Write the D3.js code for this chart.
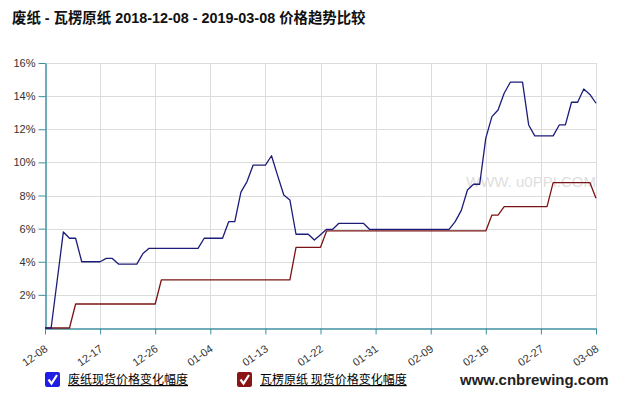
<!DOCTYPE html>
<html>
<head>
<meta charset="utf-8">
<script src="https://cdn.jsdelivr.net/npm/d3@7"></script>
<style>
  html, body { margin: 0; padding: 0; background: #fff; }
  svg { display: block; }
</style>
</head>
<body>
<svg id="chart" width="625" height="400"></svg>
<script>
// ---- data ----
const startDate = "2018-12-08";
const endDate = "2019-03-08";
const tickLabels = ["12-08","12-17","12-26","01-04","01-13","01-22","01-31","02-09","02-18","02-27","03-08"];
const yTicks = [2,4,6,8,10,12,14,16];
const seriesNames = ["废纸现货价格变化幅度", "瓦楞原纸 现货价格变化幅度"];
// daily values (%) from 2018-12-08 to 2019-03-08
const wastePaper = [
  0, 0, 2.9, 5.8, 5.42, 5.42, 4.0, 4.0, 4.0, 4.0,
  4.2, 4.2, 3.86, 3.86, 3.86, 3.86, 4.5, 4.81, 4.81, 4.81,
  4.81, 4.81, 4.81, 4.81, 4.81, 4.81, 5.42, 5.42, 5.42, 5.42,
  6.42, 6.42, 8.2, 8.84, 9.84, 9.84, 9.84, 10.4, 9.2, 8.03,
  7.73, 5.66, 5.66, 5.66, 5.31, 5.63, 5.96, 5.96, 6.32, 6.32,
  6.32, 6.32, 6.32, 5.96, 5.96, 5.96, 5.96, 5.96, 5.96, 5.96,
  5.96, 5.96, 5.96, 5.96, 5.96, 5.96, 5.96, 6.42, 7.1, 8.33,
  8.68, 8.68, 11.46, 12.76, 13.16, 14.17, 14.84, 14.84, 14.84, 12.26,
  11.6, 11.6, 11.6, 11.6, 12.26, 12.26, 13.63, 13.63, 14.43, 14.1,
  13.57
];
const corrugated = [
  0, 0, 0, 0, 0, 1.45, 1.45, 1.45, 1.45, 1.45,
  1.45, 1.45, 1.45, 1.45, 1.45, 1.45, 1.45, 1.45, 1.45, 2.9,
  2.9, 2.9, 2.9, 2.9, 2.9, 2.9, 2.9, 2.9, 2.9, 2.9,
  2.9, 2.9, 2.9, 2.9, 2.9, 2.9, 2.9, 2.9, 2.9, 2.9,
  2.9, 4.87, 4.87, 4.87, 4.87, 4.87, 5.86, 5.86, 5.86, 5.86,
  5.86, 5.86, 5.86, 5.86, 5.86, 5.86, 5.86, 5.86, 5.86, 5.86,
  5.86, 5.86, 5.86, 5.86, 5.86, 5.86, 5.86, 5.86, 5.86, 5.86,
  5.86, 5.86, 5.86, 6.82, 6.82, 7.33, 7.33, 7.33, 7.33, 7.33,
  7.33, 7.33, 7.33, 8.78, 8.78, 8.78, 8.78, 8.78, 8.78, 8.78,
  7.83
];
const colors = ["#1c1c7a", "#7a1414"];
const legendBoxColors = ["#1e1ee6", "#8a1515"];

// ---- layout ----
const svg = d3.select("#chart");
const mLeft = 45, mRight = 596, mTop = 63, mBottom = 328;
const parse = d3.timeParse("%Y-%m-%d");
const t0 = parse(startDate), t1 = parse(endDate);
const dates = wastePaper.map((_, i) => d3.timeDay.offset(t0, i));
const x = d3.scaleTime().domain([t0, t1]).range([mLeft, mRight]);
const y = d3.scaleLinear().domain([0, 16]).range([mBottom, mTop]);
const tickDates = tickLabels.map((_, i) => d3.timeDay.offset(t0, i * 9));
const axisColor = "#3f8fa0";
const font = "Arial, 'Liberation Sans', sans-serif";
const cjk = "'Noto Sans CJK SC', sans-serif";

svg.append("rect").attr("width", 625).attr("height", 400).attr("fill", "#fff");

// title
svg.append("text").attr("x", 12).attr("y", 23)
  .attr("font-family", "'Liberation Sans', 'Noto Sans CJK SC', sans-serif")
  .attr("font-weight", "bold").attr("font-size", 14.4).attr("fill", "#111")
  .text("废纸 - 瓦楞原纸 2018-12-08 - 2019-03-08 价格趋势比较");

// grid
const grid = svg.append("g");
grid.selectAll("line.h").data(yTicks).join("line")
  .attr("x1", mLeft).attr("x2", mRight)
  .attr("y1", d => Math.round(y(d)) + 0.5).attr("y2", d => Math.round(y(d)) + 0.5)
  .attr("stroke", "#dcdcdc").attr("stroke-width", 1);
grid.selectAll("line.v").data(tickDates.slice(1)).join("line")
  .attr("x1", d => Math.round(x(d)) + 0.5).attr("x2", d => Math.round(x(d)) + 0.5)
  .attr("y1", mTop).attr("y2", mBottom)
  .attr("stroke", "#dcdcdc").attr("stroke-width", 1);

// watermark
svg.append("text").attr("x", 466).attr("y", 187)
  .attr("font-family", font).attr("font-size", 15).attr("fill", "#dedede")
  .text("WWW. u0PPI.COM");

// y axis
const yAxis = d3.axisLeft(y).tickValues(yTicks).tickFormat(d => d + "%").tickSize(7).tickSizeOuter(0);
const gy = svg.append("g").attr("transform", `translate(${mLeft + 0.5},0)`).call(yAxis);
gy.select(".domain").attr("stroke", axisColor).attr("stroke-width", 1.5);
gy.selectAll(".tick line").attr("stroke", axisColor);
gy.selectAll(".tick text").attr("font-family", font).attr("font-size", 11).attr("fill", "#333").attr("x", -10);

// x axis
const xAxis = d3.axisBottom(x).tickValues(tickDates).tickFormat((d, i) => tickLabels[i]).tickSize(6).tickSizeOuter(0);
const gx = svg.append("g").attr("transform", `translate(0,${mBottom + 0.5})`).call(xAxis);
gx.select(".domain").attr("stroke", axisColor).attr("stroke-width", 1.5);
gx.selectAll(".tick line").attr("stroke", axisColor);
gx.selectAll(".tick text").attr("font-family", font).attr("font-size", 11).attr("fill", "#333")
  .attr("text-anchor", "end").attr("dy", 0).attr("y", 0)
  .attr("transform", "translate(3,22) rotate(-35)");

// lines
const line = d3.line().x((d, i) => x(dates[i])).y(d => y(d));
[corrugated, wastePaper].forEach((s, k) => {
  svg.append("path").datum(s).attr("d", line)
    .attr("fill", "none").attr("stroke", k === 0 ? colors[1] : colors[0])
    .attr("stroke-width", 1.3).attr("stroke-linejoin", "round");
});

// legend
const legendX = [45, 237];
seriesNames.forEach((name, i) => {
  const g = svg.append("g").attr("transform", `translate(${legendX[i]},372)`);
  g.append("rect").attr("width", 15).attr("height", 15).attr("rx", 2).attr("fill", legendBoxColors[i]);
  g.append("path").attr("d", "M3.5,7.5 L6.5,11.5 L12,3").attr("fill", "none").attr("stroke", "#fff").attr("stroke-width", 2.2);
  g.append("text").attr("x", 23).attr("y", 12).attr("font-family", cjk).attr("font-size", 12)
    .attr("fill", "#000").attr("text-decoration", "underline").text(name);
});
svg.append("text").attr("x", 460).attr("y", 385).attr("font-family", font).attr("font-weight", "bold")
  .attr("font-size", 15).attr("fill", "#222").text("www.cnbrewing.com");
</script>
</body>
</html>
